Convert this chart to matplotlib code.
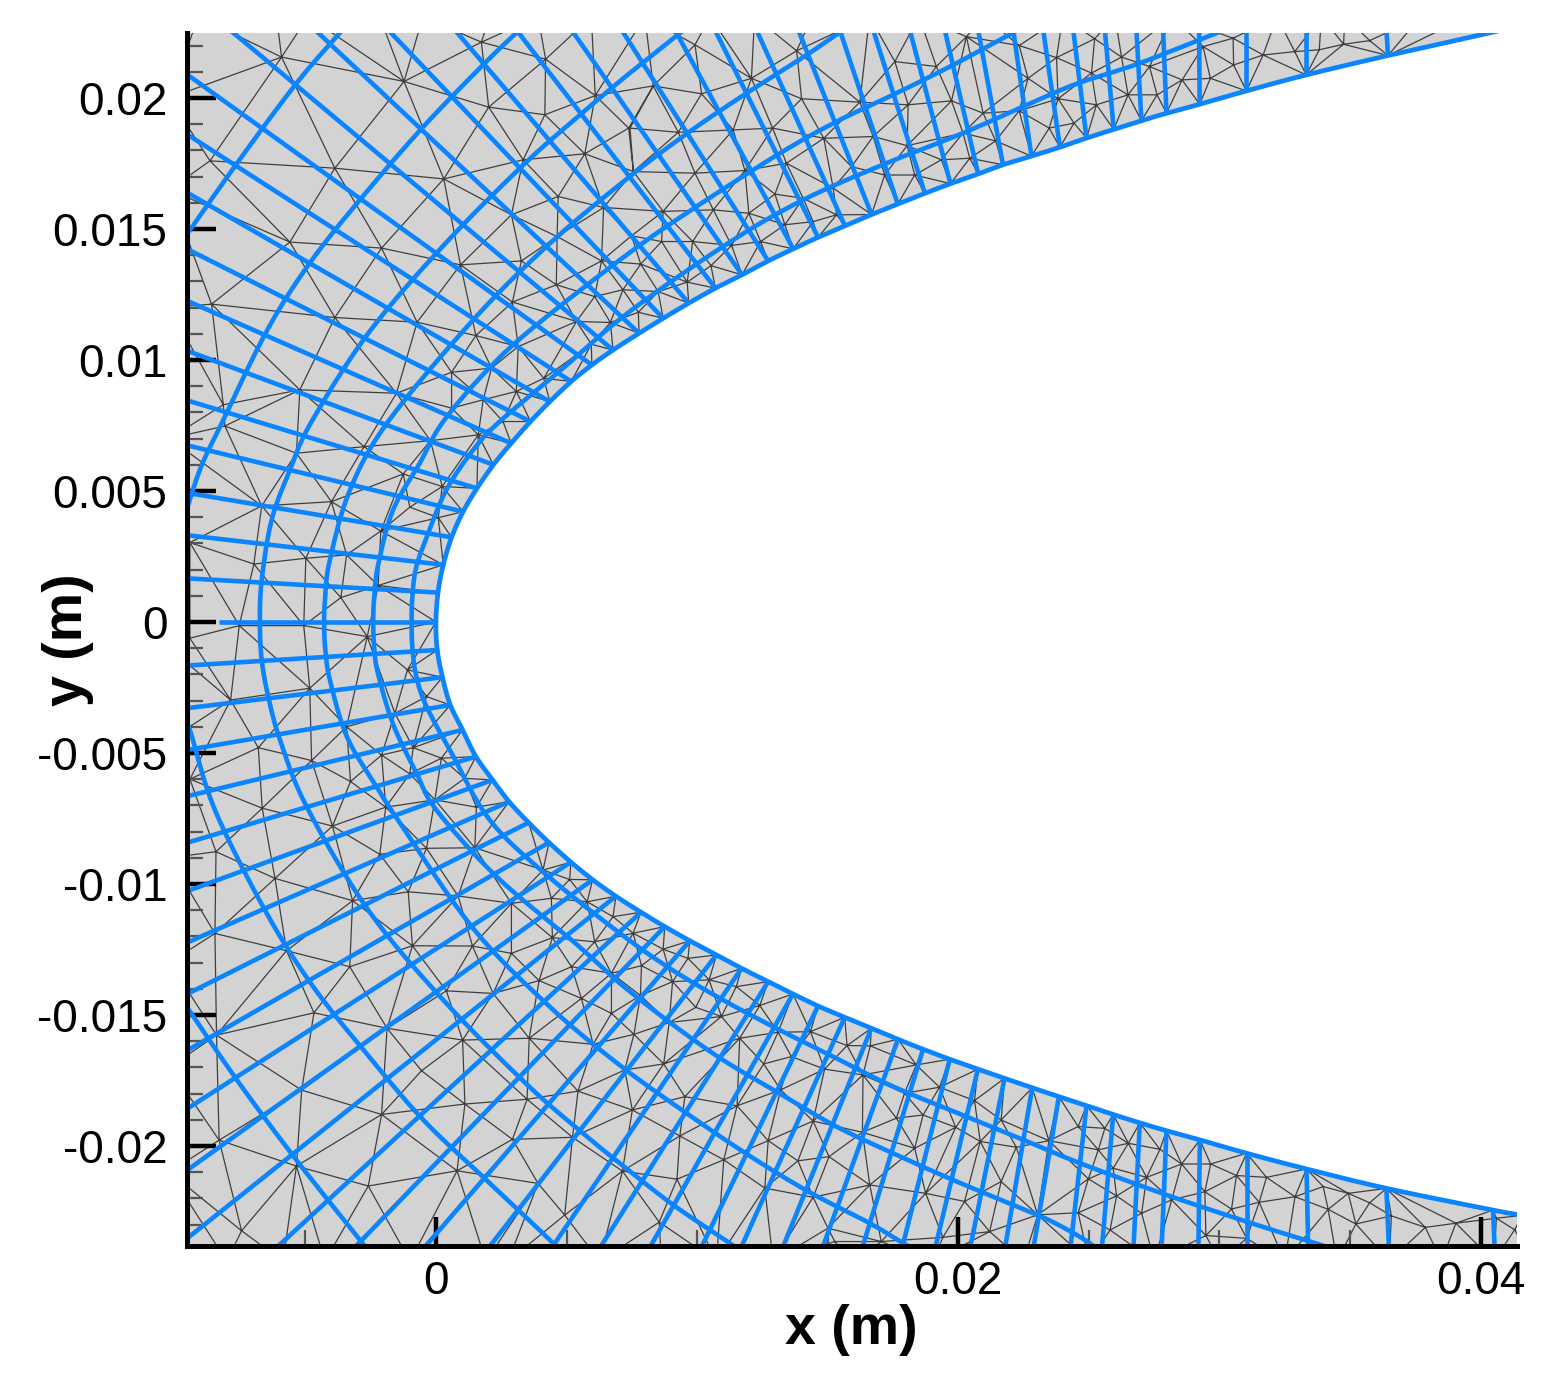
import numpy as np
import matplotlib
matplotlib.use("Agg")
import matplotlib.pyplot as plt
import matplotlib.tri as mtri

plt.rcParams['font.family'] = ['Liberation Sans', 'DejaVu Sans']
plt.rcParams['axes.unicode_minus'] = False

# ---- all geometry values, in millimetres ----
foot_up = [(0.08,1.12),(0.28,2.18),(0.60,3.23),(1.04,4.21),(1.57,5.10),(2.20,6.00),(2.88,6.82),(3.62,7.65),(4.36,8.41),(5.18,9.18),(5.97,9.81),(6.78,10.38),(7.78,11.02),(8.70,11.59),(9.68,12.17),(10.70,12.74),(11.72,13.25),(12.72,13.78),(13.68,14.24),(14.63,14.68),(15.66,15.12),(16.68,15.55),(17.68,15.95),(18.72,16.36),(19.70,16.73),(20.76,17.10),(21.71,17.45),(22.80,17.78),(23.89,18.12),(24.91,18.47),(25.95,18.80),(27.01,19.13),(27.97,19.42),(29.24,19.76),(31.03,20.27),(33.32,20.88),(36.45,21.62)]
end_up = [(-9.6,1.67),(-9.6,3.32),(-9.6,4.94),(-9.6,6.76),(-9.6,8.48),(-9.6,10.38),(-9.6,12.29),(-9.6,14.27),(-9.6,16.43),(-9.6,18.66),(-9.6,20.95),
          (-7.89,22.6),(-4.63,22.6),(-1.83,22.6),(0.72,22.6),(3.08,22.6),(5.19,22.6),(7.11,22.6),(9.15,22.6),(10.68,22.6),(12.27,22.6),(13.87,22.6),(15.46,22.6),(16.74,22.6),(18.14,22.6),(19.48,22.6),(20.76,22.6),(22.10,22.6),(23.25,22.6),(24.40,22.6),(25.61,22.6),(26.82,22.6),(27.84,22.6),(29.22,22.6),(31.03,22.6),(33.32,22.6),(36.39,22.6)]
foot_lo = [(0.05,-1.07),(0.25,-2.11),(0.55,-3.17),(1.02,-4.12),(1.53,-5.14),(2.17,-6.03),(2.80,-6.86),(3.55,-7.66),(4.33,-8.42),(5.17,-9.17),(6.00,-9.84),(6.89,-10.47),(7.85,-11.08),(8.76,-11.63),(9.72,-12.17),(10.74,-12.71),(11.70,-13.22),(12.72,-13.73),(13.67,-14.20),(14.63,-14.66),(15.65,-15.09),(16.67,-15.51),(17.69,-15.93),(18.65,-16.31),(19.67,-16.69),(20.75,-17.07),(21.77,-17.42),(22.83,-17.78),(23.85,-18.12),(24.91,-18.46),(25.93,-18.80),(26.95,-19.12),(27.97,-19.42),(29.25,-19.77),(31.04,-20.28),(33.33,-20.88),(36.39,-21.62),(40.47,-22.45)]
end_lo = [(-9.6,-1.67),(-9.6,-3.30),(-9.6,-4.90),(-9.6,-6.67),(-9.6,-8.45),(-9.6,-10.30),(-9.6,-12.27),(-9.6,-14.24),(-9.6,-16.40),(-9.6,-18.63),(-9.6,-20.98),(-9.6,-23.59),
          (-6.23,-24),(-3.23,-24),(-0.55,-24),(1.93,-24),(4.36,-24),(6.21,-24),(8.12,-24),(10.10,-24),(11.63,-24),(13.23,-24),(14.76,-24),(16.29,-24),(17.82,-24),(19.09,-24),(20.43,-24),(21.77,-24),(22.86,-24),(24.28,-24),(25.49,-24),(26.70,-24),(27.78,-24),(29.19,-24),(31.04,-24),(33.40,-24),(36.49,-24),(40.54,-24)]
axis_ray = [(0.0,0.0),(-8.3,0.0)]
tail_up = (40.59,22.54)
tail_lo = (41.6,-22.65)

arc_a = [(30.1,22.56),(26.95,21.33),(24.78,20.63),(23.50,20.12),(20.18,18.66),(17.25,17.51),(14.06,16.11),(11.19,14.46),(7.42,11.85),(4.87,9.69),(2.44,7.65),(1.42,6.56),(0.40,5.04),(-0.30,3.38),(-0.75,2.11),(-0.90,1.0),(-0.93,0.0),(-0.90,-1.0),(-0.75,-2.09),(-0.36,-3.23),(0.60,-5.01),(2.06,-7.56),(4.23,-9.65),(7.04,-11.88),(8.95,-13.22),(10.99,-14.43),(13.03,-15.51),(15.20,-16.59),(17.50,-17.73),(20.31,-18.88),(22.35,-19.71),(24.66,-20.66),(27.97,-21.87),(31.04,-22.89),(33.46,-23.65),(34.6,-24.0)]
arc_b = [(22.3,22.6),(19.80,21.26),(17.50,20.12),(15.34,19.10),(13.17,17.89),(9.98,15.86),(7.42,14.10),(3.84,11.33),(2.0,9.65),(0.28,7.65),(-0.62,6.06),(-1.64,4.28),(-2.20,2.24),(-2.36,1.0),(-2.40,0.0),(-2.36,-1.0),(-2.22,-1.96),(-1.64,-3.90),(-0.74,-5.78),(0.02,-7.18),(2.32,-9.72),(5.38,-12.30),(7.04,-13.79),(9.0,-15.32),(10.99,-16.72),(13.16,-18.00),(15.33,-19.26),(17.63,-20.34),(19.80,-21.30),(22.09,-22.25),(23.51,-22.85),(24.79,-23.55),(25.4,-24.0)]
arc_c = [(15.6,22.6),(14.19,21.64),(11.89,20.18),(9.72,18.72),(7.42,17.00),(4.42,14.50),(1.49,11.60),(-1.83,7.65),(-3.29,5.04),(-4.06,2.37),(-4.24,1.0),(-4.28,0.0),(-4.24,-1.0),(-4.06,-2.21),(-3.40,-4.4),(-2.27,-6.29),(-1.45,-7.56),(1.42,-11.69),(4.36,-14.69),(7.04,-16.92),(9.59,-18.75),(12.01,-20.38),(14.31,-21.77),(16.61,-22.95),(17.88,-23.71),(18.4,-24.0)]
arc_d = [(9.50,22.6),(7.42,20.95),(5.57,19.40),(3.34,17.44),(0.28,14.36),(-2.59,11.02),(-4.76,7.65),(-5.59,5.80),(-6.29,3.89),(-6.67,1.60),(-6.74,0.0),(-6.67,-1.45),(-6.42,-2.85),(-5.97,-4.50),(-4.95,-7.05),(-2.59,-11.0),(0.28,-14.43),(3.47,-17.64),(5.63,-19.52),(7.04,-20.66),(9.08,-22.25),(11.25,-23.71),(11.6,-24.0)]
arc_e = [(3.2,22.6),(1.87,21.33),(-0.42,18.97),(-2.59,16.49),(-4.70,13.88),(-6.42,11.21),(-8.14,7.71),(-9.0,5.9),(-9.6,4.1)]
arc_e_low = [(-9.6,-3.9),(-9.42,-4.12),(-8.46,-7.18),(-6.48,-11.12),(-4.70,-13.92),(-2.66,-16.47),(-0.49,-19.0),(1.93,-21.30),(4.36,-23.59),(4.7,-24.0)]
arc_f = [(-9.6,14.7),(-7.57,17.57),(-5.34,20.56),(-3.58,22.6)]
arc_f_low = [(-9.6,-14.6),(-7.57,-17.55),(-5.34,-20.54),(-2.91,-23.59),(-2.6,-24.0)]

nodes_top_left = [(-5.91,21.56),(-1.22,20.63),(1.74,22.13),(4.20,21.48),(2.02,19.65),(4.17,19.36),(6.10,20.09),(-8.65,17.60),(-3.87,17.32),(0.30,16.91),(3.34,17.64),(5.70,17.87),(7.38,18.85),(2.89,15.54),(4.68,16.24),(6.42,15.82),(4.64,14.71),(-5.59,14.50),(-2.08,14.27),(0.94,13.63),(3.27,13.78),(6.34,13.78),(4.61,12.87),(-8.59,12.13),(-3.87,11.62),(-0.72,11.44),(2.93,12.21),(6.08,12.42),(7.16,12.68),(1.53,10.93),(3.15,10.51),(5.38,11.47),(6.68,11.43),(5.95,10.60),(0.60,9.53),(2.13,9.69),(4.13,9.30),(-5.21,8.86),(-1.51,8.73),(3.08,8.80),(1.81,8.48),(-8.14,8.29),(0.60,8.16),(2.57,7.65)]
nodes_top_mid = [(9.92,22.03),(13.81,21.80),(17.57,21.39),(19.16,21.20),(20.31,22.34),(22.33,22.0),(8.32,20.46),(12.08,20.75),(10.17,20.16),(14.0,19.97),(16.23,19.84),(18.08,19.74),(19.74,19.89),(22.67,20.75),(22.33,19.51),(20.95,19.42),(7.43,18.85),(9.28,18.69),(11.38,18.78),(12.89,18.85),(14.85,18.46),(16.74,18.53),(18.04,18.18),(20.18,18.66),(21.43,18.36),(7.56,17.19),(9.92,17.13),(11.83,17.23),(13.42,17.51),(15.91,17.38),(19.35,17.64),(20.44,17.70),(12.98,16.33),(14.06,16.17),(15.21,16.56),(17.18,17.06),(18.33,17.06),(10.62,15.73),(8.70,15.67),(11.98,15.60),(13.36,15.16),(14.44,15.28),(15.34,15.54),(7.49,14.74),(8.64,14.52),(9.83,14.52),(11.32,14.37),(12.43,14.52),(7.84,13.66),(10.53,13.60),(9.62,12.97),(8.51,12.61),(7.75,11.82)]
nodes_top_right = [(25.22,22.26),(23.76,21.54),(26.25,21.56),(25.10,20.95),(27.32,21.20),(29.37,21.96),(30.52,22.28),(30.54,21.26),(31.67,21.64),(32.88,21.77),(33.82,21.84),(34.75,22.05),(35.75,22.19),(28.57,20.69),(29.65,20.75),(23.82,19.97),(26.50,20.12),(27.61,20.12),(25.29,19.74),(23.48,18.85),(24.43,19.04)]
nodes_nose = [(-8.08,7.48),(-5.34,6.44),(-2.75,6.69),(-0.21,6.92),(1.62,7.14),(-1.25,5.65),(0.24,5.17),(-4.0,4.59),(-6.67,4.43),(-1.0,4.38),(0.09,3.98),(-2.11,3.47),(-9.42,3.03),(-4.98,2.43),(-6.97,2.21),(-3.42,2.56),(-2.21,1.39),(-3.64,0.93),(-7.53,-0.14),(-5.06,-0.14),(-2.63,-0.56),(-9.42,-0.62),(-1.09,-1.83),(-4.83,-2.53),(-7.86,-2.98),(-0.36,-2.85),(-1.57,-3.49),(-3.42,-4.0),(-6.80,-4.80),(-0.87,-4.80),(0.21,-5.20),(-4.76,-5.29),(-2.08,-5.08),(-1.0,-5.80),(-3.27,-6.09),(1.10,-5.97),(-9.42,-6.0),(-0.04,-6.79),(-6.65,-7.11),(-1.92,-7.07),(1.55,-7.07)]
nodes_low_left = [(-3.96,-7.79),(-8.42,-8.77),(-2.15,-8.87),(-0.36,-8.64),(1.49,-8.62),(-6.16,-9.79),(4.10,-9.47),(5.12,-9.83),(-3.19,-10.64),(0.85,-10.46),(-1.06,-10.30),(2.89,-10.74),(4.42,-10.55),(5.79,-10.68),(6.78,-11.25),(-8.46,-11.89),(-5.72,-12.55),(-3.30,-13.16),(-0.90,-12.36),(1.40,-12.37),(2.89,-12.65),(4.46,-12.05),(6.08,-12.21),(5.19,-13.16),(6.72,-13.41),(3.95,-13.69),(0.40,-14.08),(2.19,-14.18),(5.57,-14.37),(-4.67,-14.92),(-1.87,-15.51),(6.72,-14.94),(-8.40,-15.77),(1.02,-15.96),(3.57,-15.89),(6.02,-16.12),(-0.55,-17.13),(7.23,-17.10),(-5.14,-17.87),(5.44,-17.91),(3.49,-18.22),(1.11,-18.40),(-2.08,-18.80),(-8.30,-19.78),(2.93,-19.75),(5.23,-19.67),(-5.34,-20.77),(0.81,-20.95),(7.14,-20.96),(-2.59,-21.53),(3.91,-21.43),(-7.44,-23.24),(4.93,-22.64)]
nodes_low_mid = [(7.55,-11.88),(8.70,-12.49),(9.65,-12.84),(7.87,-13.12),(9.06,-13.73),(10.46,-13.66),(11.50,-13.92),(7.83,-14.26),(9.95,-14.71),(12.40,-14.64),(10.93,-15.06),(8.93,-15.29),(7.58,-15.74),(13.10,-15.66),(11.63,-15.89),(14.34,-15.64),(15.74,-16.17),(16.63,-16.18),(13.61,-16.59),(8.72,-16.87),(12.55,-16.87),(14.88,-17.07),(16.35,-17.29),(18.39,-16.91),(19.28,-17.76),(20.62,-18.27),(13.20,-17.86),(17.94,-17.99),(9.53,-18.12),(7.52,-18.63),(11.53,-18.47),(14.44,-19.05),(17.63,-18.94),(18.65,-18.82),(21.64,-19.01),(19.90,-19.29),(16.33,-19.48),(20.84,-19.83),(22.22,-20.05),(23.47,-19.80),(9.34,-19.62),(12.72,-19.80),(18.33,-20.09),(15.05,-20.41),(11.02,-20.53),(13.86,-20.57),(9.23,-21.27),(16.61,-21.49),(21.64,-21.36),(12.59,-21.61),(18.75,-21.81),(14.44,-21.96),(20.24,-22.12),(8.55,-22.91),(23.04,-22.63),(21.20,-23.27),(15.01,-23.14),(19.41,-23.49),(15.27,-23.65),(17.05,-23.65)]
nodes_low_right = [(24.59,-19.26),(25.61,-19.33),(26.51,-19.90),(25.36,-20.15),(27.72,-20.13),(28.55,-20.69),(29.66,-20.69),(30.65,-21.13),(31.80,-21.20),(25.93,-20.85),(27.21,-21.20),(24.98,-21.26),(32.89,-21.94),(33.97,-21.55),(34.93,-21.81),(35.75,-22.17),(26.06,-21.91),(29.44,-21.75),(28.17,-22.06),(31.52,-22.15),(30.46,-22.41),(27.02,-22.57),(24.59,-22.55),(34.16,-22.42),(35.22,-22.98),(37.88,-23.11),(39.05,-22.95),(36.58,-22.67),(25.81,-23.21),(29.48,-23.42),(31.04,-23.53),(40.6,-22.76),(41.3,-23.2)]
nodes_rim_top = [(x,23.1) for x in (-9.1,-6.1,-4.9,-2.15,-0.5,2.06,3.91,5.95,8.0,10.5,12.2,14.4,16.6,18.5,21.0,24.0,26.0,28.2,32.2,33.9,34.8,37.7,39.5,41.0)]
nodes_rim_left = [(-10.2,y) for y in (23.0,20.0,16.5,12.0,7.0,3.0,-1.0,-4.5,-9.0,-13.0,-17.0,-21.0,-25.0)]
nodes_rim_low = [(x,-24.4) for x in (-8.01,-5.85,-4.25,-0.99,1.91,2.76,6.27,8.63,10.74,12.91,16.0,19.0,22.5,25.0,27.5,30.0,32.5,34.5,36.5,38.5,40.5,42.0)]

x_ticks_major = [0.0, 0.02, 0.04]
x_tick_labels = ['0', '0.02', '0.04']
x_ticks_minor = [-0.005, 0.005, 0.01, 0.015, 0.025, 0.03, 0.035]
y_ticks_major = [-0.02, -0.015, -0.01, -0.005, 0.0, 0.005, 0.01, 0.015, 0.02]
y_tick_labels = ['-0.02', '-0.015', '-0.01', '-0.005', '0', '0.005', '0.01', '0.015', '0.02']
y_ticks_minor = [v / 1000 for v in range(-23, 23) if v % 5 != 0]
x_limits = (-9.53e-3, 41.39e-3)
y_limits = (-23.82e-3, 22.48e-3)

BLUE = '#0a84ff'
W, H = 1557, 1376
fig = plt.figure(figsize=(W / 100, H / 100), dpi=100, facecolor='white')
ax = fig.add_axes([187 / W, 1 - 1246 / H, (1517 - 187) / W, (1246 - 33) / H], facecolor='#d3d3d3')
ax.set_xlim(*x_limits)
ax.set_ylim(*y_limits)

def m(points):
    a = np.asarray(points, dtype=float) * 1e-3
    return a[:, 0], a[:, 1]

def rounded(x, y, n=8):
    """Draw a polyline through the read points with rounded (Catmull-Rom) corners."""
    p = np.c_[x, y]
    p = np.vstack([2 * p[0] - p[1], p, 2 * p[-1] - p[-2]])
    t = np.linspace(0, 1, n, endpoint=False)[:, None]
    out = []
    for i in range(1, len(p) - 2):
        a, b, c, d = p[i - 1], p[i], p[i + 1], p[i + 2]
        out.append(0.5 * (2 * b + (c - a) * t + (2 * a - 5 * b + 4 * c - d) * t ** 2
                          + (3 * b - a - 3 * c + d) * t ** 3))
    out.append(p[-2][None, :])
    out = np.vstack(out)
    return out[:, 0], out[:, 1]

wall_up = [(0.0, 0.0)] + foot_up + [tail_up]
wall_lo = [(0.0, 0.0)] + foot_lo + [tail_lo]

# triangular mesh
all_nodes = (nodes_top_left + nodes_top_mid + nodes_top_right + nodes_nose + nodes_low_left
             + nodes_low_mid + nodes_low_right + nodes_rim_top + nodes_rim_left + nodes_rim_low
             + wall_up + wall_lo[1:])
unique_nodes = np.unique(np.round(np.array(all_nodes), 3), axis=0)
nx, ny = unique_nodes[:, 0] * 1e-3, unique_nodes[:, 1] * 1e-3
tri = mtri.Triangulation(nx, ny)
cx, cy = nx[tri.triangles].mean(axis=1), ny[tri.triangles].mean(axis=1)
ux, uy = m(wall_up)
lx, ly = m(wall_lo)
inside = (cx > 0) & (cy < np.interp(cx, ux, uy)) & (cy > np.interp(cx, lx, ly))
tri.set_mask(inside)
ax.triplot(tri, color='#1a1a1a', lw=0.9, alpha=0.8, zorder=2)

# white body on top of the mesh
wx, wy = rounded(np.r_[ux[::-1], lx[1:]], np.r_[uy[::-1], ly[1:]])
bx = np.r_[wx, 0.05, 0.05]
by = np.r_[wy, ly[-1], uy[-1]]
ax.fill(bx, by, color='white', lw=0, zorder=3)

# blue structured lines
LW = 3.3
for f, e in list(zip(foot_up, end_up)) + list(zip(foot_lo, end_lo)):
    x, y = m([f, e])
    ax.plot(x, y, color=BLUE, lw=LW, zorder=4, solid_capstyle='butt')
x, y = m(axis_ray)
ax.plot(x, y, color=BLUE, lw=LW, zorder=4, solid_capstyle='butt')
for arc in (arc_a, arc_b, arc_c, arc_d, arc_e, arc_e_low, arc_f, arc_f_low):
    x, y = rounded(*m(arc))
    ax.plot(x, y, color=BLUE, lw=LW, zorder=4, solid_joinstyle='round')
ax.plot(wx, wy, color=BLUE, lw=3.4, zorder=5, solid_joinstyle='round')

# axes furniture
for s in ('top', 'right'):
    ax.spines[s].set_visible(False)
for s in ('left', 'bottom'):
    ax.spines[s].set_linewidth(3.6)
    ax.spines[s].set_color('black')
    ax.spines[s].set_zorder(8)
ax.set_axisbelow(False)
ax.set_xticks(x_ticks_major, x_tick_labels)
ax.set_yticks(y_ticks_major, y_tick_labels)
ax.set_xticks(x_ticks_minor, minor=True)
ax.set_yticks(y_ticks_minor, minor=True)
ax.tick_params(axis='both', which='major', direction='in', length=21, width=3.2, color='black',
               labelsize=33, zorder=7)
ax.tick_params(axis='x', which='major', pad=10)
ax.tick_params(axis='y', which='major', pad=14)
ax.tick_params(axis='both', which='minor', direction='in', length=11.5, width=1.6, color='#555555', zorder=3.5)
ax.set_xlabel('x (m)', fontsize=40, fontweight='bold', va='center')
ax.set_ylabel('y (m)', fontsize=40, fontweight='bold', va='center')
ax.xaxis.set_label_coords((851 - 187) / 1330, (1246 - 1330) / 1213)
ax.yaxis.set_label_coords((68 - 187) / 1330, (1246 - 640) / 1213)

fig.savefig('out.png', dpi=100, facecolor='white')
